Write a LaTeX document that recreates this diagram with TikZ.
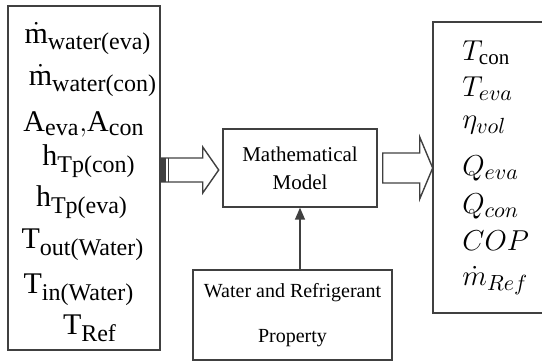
\documentclass[tikz,border=0pt]{standalone}
\usepackage{amsmath}
\usepackage{fontspec}
\setmainfont{Liberation Serif}
\DeclareMathSizes{15}{15}{12}{9}
\DeclareMathSizes{14}{14}{10.5}{8}
\usetikzlibrary{arrows.meta,calc}
\tikzset{panel/.style={draw=black!75, line width=0.7pt, inner sep=0pt},
  blockarrow/.style={draw=black!75, line width=0.7pt, line join=miter}}
% m with a dot that does not add to the node height
\newcommand{\mdotup}{\smash{\dot{\text{m}}}\vphantom{\text{m}}}
\newcommand{\mdotit}{\smash{\dot{m}}\vphantom{m}}

\begin{document}
\begin{tikzpicture}[x=0.5pt,y=-0.5pt]
  \useasboundingbox (0,0) rectangle (542,362);
  % boxes
  \node[panel, minimum width=76pt, minimum height=172pt] (inputs) at (84,178) {};
  \node[panel, minimum width=77pt, minimum height=39pt, align=center,
    font=\fontsize{10.5}{14}\selectfont] (model) at (300,168) {Mathematical\\Model};
  \node[panel, minimum width=99.5pt, minimum height=45pt, align=center,
    font=\fontsize{10}{22.5}\selectfont] (props) at (292.5,315) {Water and Refrigerant\\Property};
  \node[panel, minimum width=63.5pt, minimum height=145.5pt] (outputs) at (496.5,167.5) {};
  % inputs
\begin{scope}[every node/.style={font=\fontsize{15}{18}\selectfont, inner sep=0.5pt}]
  \node (mwEva) at (88,42) {$\mdotup_{\text{water(eva)}}$};
  \node (mwCon) at (93,84) {$\mdotup_{\text{water(con)}}$};
  \node (area) at (84,124) {$\text{A}_{\text{eva}},\!\text{A}_{\text{con}}$};
  \node (hCon) at (89,161) {$\text{h}_{\text{Tp(con)}}$};
  \node (hEva) at (82,202) {$\text{h}_{\text{Tp(eva)}}$};
  \node (tOut) at (83,245) {$\text{T}_{\text{out(Water)}}$};
  \node (tIn) at (79,290) {$\text{T}_{\text{in(Water)}}$};
  \node (tRef) at (90,328) {$\text{T}_{\text{Ref}}$};
\end{scope}
  % outputs
\begin{scope}[every node/.style={font=\fontsize{14}{17}\selectfont, anchor=west, inner sep=0.5pt}]
  \node (oTcon) at (461,53) {$T_{\mathrm{con}}$};
  \node (oTeva) at (461,89) {$T_{eva}$};
  \node (oEta) at (461,125) {$\eta_{vol}$};
  \node (oQeva) at (461,168) {$Q_{eva}$};
  \node (oQcon) at (461,206) {$Q_{con}$};
  \node (oCop) at (461,241) {$COP$};
  \node (oMref) at (461,284) {$\mdotit_{Ref}$};
\end{scope}
  % hollow arrows
  \coordinate (inTail) at (inputs.east |- 0,170);
  \coordinate (outTail) at ([xshift=2.5pt]model.east);
  \draw[blockarrow] (inTail) ++(0,-12) -- ++(42,0) -- ++(0,-11) -- ++(16,23)
    -- ++(-16,23) -- ++(0,-11) -- ++(-42,0);
  \fill[black!75] (inTail) ++(0,-12) rectangle ++(5,24);
  \draw[blockarrow] (inTail) ++(8,-12) -- ++(0,24);
  \draw[blockarrow] (outTail) ++(0,-15) -- ++(37,0) -- ++(0,-16) -- ++(13,31)
    -- ++(-13,31) -- ++(0,-16) -- ++(-37,0) -- cycle;
  % property feed
  \draw[blockarrow, -{Triangle[length=6pt,width=5pt]}] (model.south |- props.north) -- (model.south);
\end{tikzpicture}
\end{document}
